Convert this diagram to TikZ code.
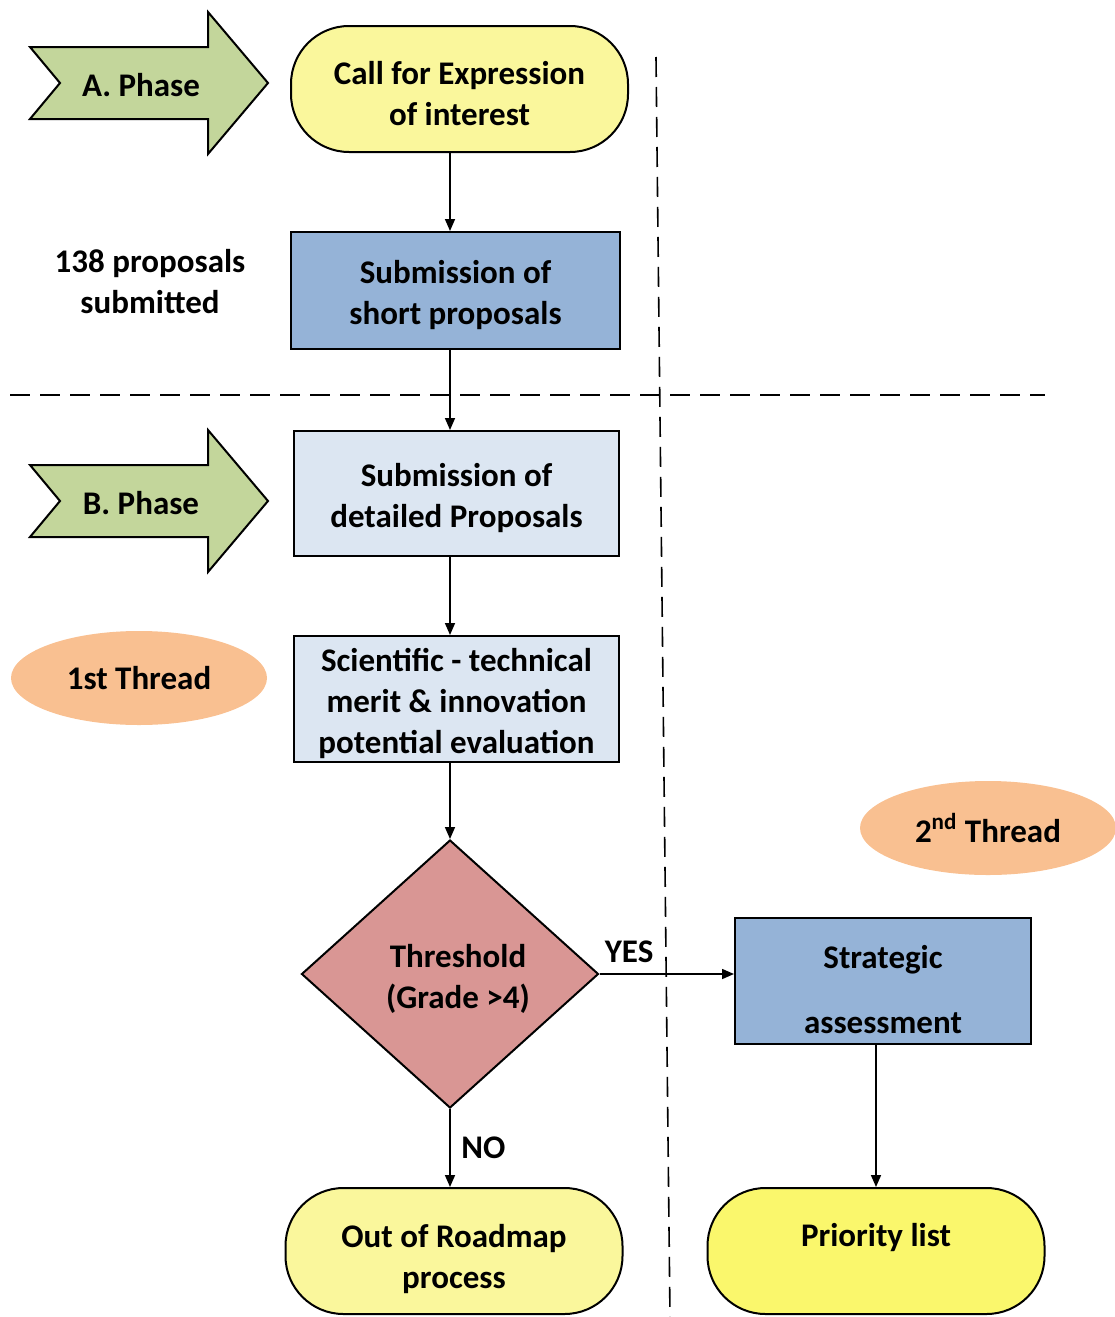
\documentclass[tikz,border=0pt]{standalone}
\usepackage{fontspec}
\setmainfont{Carlito}
\usetikzlibrary{shapes.geometric,arrows.meta}

\definecolor{callgelb}{HTML}{FAF79C}
\definecolor{prioritygelb}{HTML}{FAF76C}
\definecolor{blaukasten}{HTML}{95B3D7}
\definecolor{hellblau}{HTML}{DCE6F2}
\definecolor{phasegruen}{HTML}{C3D69B}
\definecolor{rosa}{HTML}{D99694}
\definecolor{threadorange}{HTML}{F9C091}

\begin{document}
\begin{tikzpicture}[x=0.5pt,y=-0.5pt,>={Triangle[length=6pt,width=5pt]},
	font=\fontsize{16.5}{20.5}\selectfont\bfseries,
	kasten/.style={draw,line width=1pt,align=center,inner sep=0pt},
	terminal/.style={kasten,rounded corners=29pt,minimum width=168.5pt,minimum height=63pt},
	thread/.style={ellipse,fill=threadorange,minimum width=128pt,minimum height=47pt},
	pfeil/.style={->,line width=0.8pt},
	trenner/.style={line width=0.8pt,dash pattern=on 10pt off 5pt}]

	\useasboundingbox (0,0) rectangle (1114,1317);

	% phase arrows
	\def\phasepfeil#1{
		\draw[fill=phasegruen,line width=1pt,line join=miter,shift={#1}]
		(-111,-36) -- (-81,0) -- (-111,36) -- (67,36) -- (67,71)
		-- (127,0) -- (67,-71) -- (67,-36) -- cycle;
	}
	\phasepfeil{(141,83)}
	\phasepfeil{(141,501)}
	\node (phaseA) at (141,85) {A. Phase};
	\node (phaseB) at (141,503) {B. Phase};

	% separators
	\draw[trenner] (10,395) -- (1045,395);
	\draw[trenner] (656,57) -- (670,1317);

	% boxes
	\node[terminal,fill=callgelb] (call) at (459.5,89) {\rule{0pt}{16pt}Call for Expression\\of interest};
	\node[kasten,fill=blaukasten,minimum width=164.5pt,minimum height=58.5pt]
		(short) at (455.5,290.5) {\rule{0pt}{16pt}Submission of\\short proposals};
	\node[align=center] (count) at (150,282) {138 proposals\\submitted};
	\node[kasten,fill=hellblau,minimum width=162.5pt,minimum height=62.5pt]
		(detailed) at (456.5,493.5) {\rule{0pt}{16pt}Submission of\\detailed Proposals};
	\node[kasten,fill=hellblau,minimum width=162.5pt,minimum height=63pt]
		(merit) at (456.5,699) {\rule{0pt}{16pt}Scientific - technical\\merit \& innovation\\potential evaluation};
	\node[thread] (threadA) at (139,678) {1st Thread};
	\node[kasten,diamond,aspect=1.1,fill=rosa,minimum width=148.5pt,minimum height=134pt]
		(threshold) at (450,974) {\rule{0pt}{16pt}\hspace{8pt}Threshold\\\hspace{8pt}(Grade >4)};
	\node[thread] (threadB) at (988,828) {2\textsuperscript{nd} Thread};
	\node[kasten,fill=blaukasten,minimum width=148pt,minimum height=63pt]
		(strategic) at (883,981) {\rule{0pt}{20pt}Strategic\\[12pt]assessment};
	\node[terminal,fill=callgelb] (out) at (454,1251) {\rule{0pt}{20pt}Out of Roadmap\\process};
	\node[terminal,fill=prioritygelb] (priority) at (876,1251) {Priority list\\[-4pt]\mbox{}};

	% connectors
	\coordinate (achse) at (450,0);
	\draw[pfeil] (call.south -| achse) -- (short.north -| achse);
	\draw[pfeil] (short.south -| achse) -- (detailed.north -| achse);
	\draw[pfeil] (detailed.south -| achse) -- (merit.north -| achse);
	\draw[pfeil] (merit.south -| achse) -- (threshold.north);
	\draw[pfeil] (threshold.south) -- (out.north -| threshold.south)
		node[midway,right=2pt] (nein) {NO};
	\draw[pfeil] (threshold.east) -- (threshold.east -| strategic.west)
		node[pos=0.22,above=2pt] (ja) {YES};
	\draw[pfeil] (strategic.south -| priority.north) -- (priority.north);
\end{tikzpicture}
\end{document}
